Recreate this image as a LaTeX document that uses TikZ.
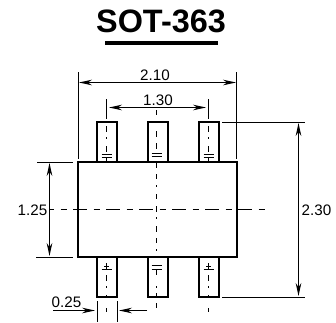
\documentclass[tikz,border=0pt]{standalone}
\usepackage{fontspec}
\setmainfont{Liberation Sans}
\usetikzlibrary{arrows.meta}
\tikzset{
  outline/.style={line width=1pt},
  thin line/.style={line width=0.55pt},
  dimline/.style={line width=0.55pt,{Stealth[length=6.5pt,width=2.8pt]}-{Stealth[length=6.5pt,width=2.8pt]}},
  oneway/.style={line width=0.55pt,-{Stealth[length=6.5pt,width=2.8pt]}},
  dimtext/.style={inner sep=0pt,font=\fontsize{7.6}{9}\selectfont}
}
\begin{document}
\begin{tikzpicture}[x=0.5pt,y=-0.5pt]
\useasboundingbox (0,0) rectangle (336,322);
\node (title) [inner sep=0pt,font=\fontsize{16.2}{18}\selectfont\bfseries] at (161,21.5) {SOT-363};
\fill (105,41) rectangle (218,45);
\draw[outline] (78,162) rectangle (237,257);
\foreach \x in {97,148,199} {
  \draw[outline] (\x,162) -- (\x,122) -- ++(20,0) -- ++(0,40);
  \draw[outline] (\x,257) -- (\x,297) -- ++(20,0) -- ++(0,-40);
}
\foreach \x in {106.5,208.5} {
  \foreach \a/\b in {126/132,137/139,146/152,158/162,263/269,275/281,286/288,295/297,308/312}
    \draw[thin line] (\x,\a) -- (\x,\b);
  \draw[thin line] (\x-5,154.5) -- (\x+5,154.5);
  \draw[thin line] (\x-5,157.5) -- (\x+5,157.5);
  \draw[thin line] (\x-2.5,266.5) -- (\x+2.5,266.5);
  \draw[thin line] (\x-5,269.5) -- (\x+5,269.5);
}
\foreach \a/\b in {110/115,131/137,143/149,163/168,174/179,185/187,194/199,206/212,217/219,226/232,238/243,249/251,269/275,286/288,293/298,303/308}
  \draw[thin line] (156.5,\a) -- (156.5,\b);
\draw[thin line] (151.5,153.5) -- (161.5,153.5);
\draw[thin line] (151.5,156.5) -- (161.5,156.5);
\draw[thin line] (151.5,265.5) -- (161.5,265.5);
\draw[thin line] (151.5,269.5) -- (161.5,269.5);
\draw[thin line,dash pattern=on 7pt off 3.25pt on 3pt off 3.25pt,dash phase=4.5pt] (49,209.5) -- (267,209.5);

\coordinate (wL) at (79,82.5);
\coordinate (wR) at (236,82.5);
\coordinate (pL) at (109,107.5);
\coordinate (pR) at (206,107.5);
\coordinate (hT) at (298.5,123);
\coordinate (hB) at (298.5,296);
\coordinate (bT) at (49.5,163);
\coordinate (bB) at (49.5,256);
\draw[thin line] (78.5,72) -- (78.5,159);
\draw[thin line] (236.5,72) -- (236.5,159);
\draw[thin line] (106.5,99) -- (106.5,119);
\draw[thin line] (208.5,99) -- (208.5,119);
\draw[thin line] (222,122.5) -- (305,122.5);
\draw[thin line] (222,297.5) -- (305,297.5);
\draw[thin line] (37,162.5) -- (73,162.5);
\draw[thin line] (36,257.5) -- (73,257.5);
\draw[thin line] (97.5,301) -- (97.5,322);
\draw[thin line] (117.5,301) -- (117.5,322);
\draw[dimline] (wL) -- (wR);
\draw[dimline] (pL) -- (pR);
\draw[dimline] (hT) -- (hB);
\draw[dimline] (bT) -- (bB);
\coordinate (gL) at (53,310.5);
\coordinate (gA) at (95,310.5);
\coordinate (gR) at (147,310.5);
\coordinate (gB) at (119,310.5);
\draw[oneway] (gL) -- (gA);
\draw[oneway] (gR) -- (gB);
\node (w210) [dimtext] at (155,75) {2.10};
\node (w130) [dimtext] at (158,100) {1.30};
\node (h230) [dimtext] at (316.5,210) {2.30};
\node (h125) [dimtext] at (32.5,210) {1.25};
\node (g025) [dimtext] at (66.5,302) {0.25};
\end{tikzpicture}
\end{document}
